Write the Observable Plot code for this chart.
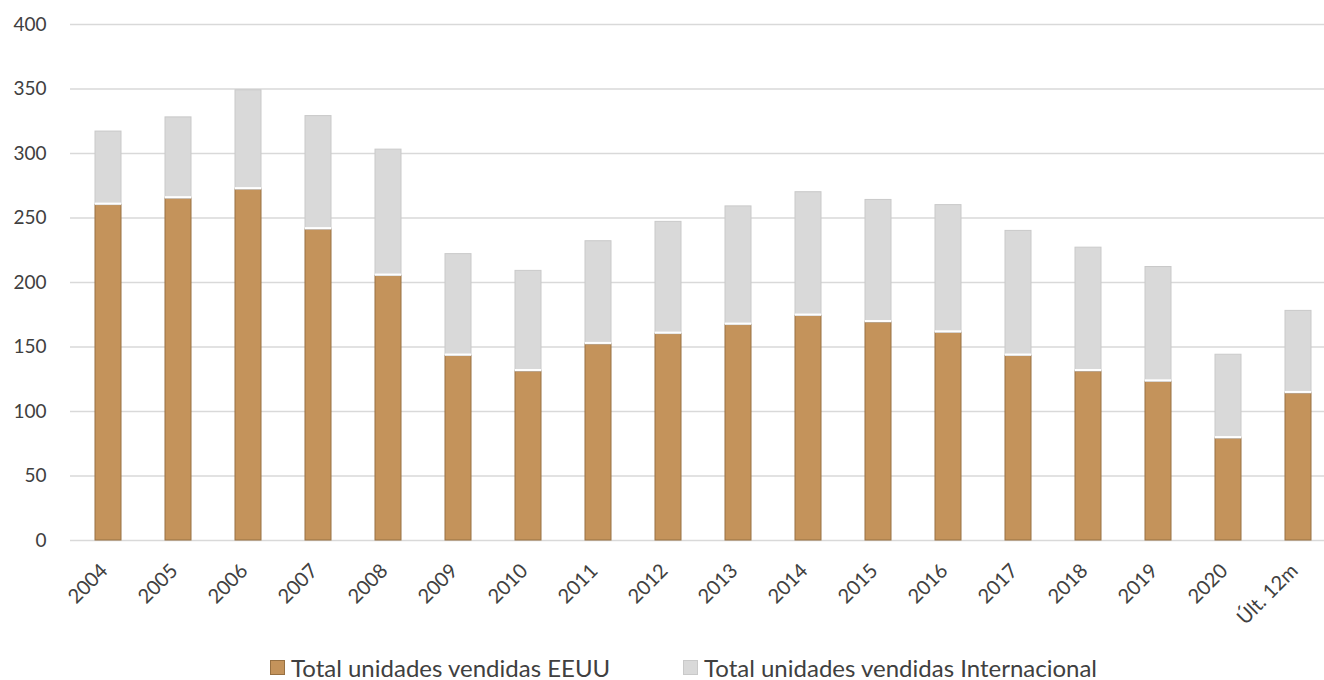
<!DOCTYPE html>
<html>
<head>
<meta charset="utf-8">
<script src="https://cdn.jsdelivr.net/npm/d3@7"></script>
<script src="https://cdn.jsdelivr.net/npm/@observablehq/plot@0.6"></script>
<style>
  body { margin: 0; background: #fff; font-family: Lato, "Open Sans", sans-serif; }
  #legend { position: relative; height: 50px; color: #404040; font-size: 24px; }
  .item { position: absolute; top: 23px; display: flex; align-items: center; white-space: nowrap; }
  .sw { width: 15px; height: 15px; margin-right: 6px; box-sizing: border-box; }
</style>
</head>
<body>
<div id="chart"></div>
<div id="legend"></div>
<script>
// Unidades vendidas por año (EEUU e internacional)
const years = ["2004","2005","2006","2007","2008","2009","2010","2011","2012","2013","2014","2015","2016","2017","2018","2019","2020","Últ. 12m"];
const eeuu = [260, 265, 272, 241, 205, 143, 131, 152, 160, 167, 174, 169, 161, 143, 131, 123, 79, 114];
const internacional = [57, 63, 77, 88, 98, 79, 78, 80, 87, 92, 96, 95, 99, 97, 96, 89, 65, 64];
const yTicks = [0, 50, 100, 150, 200, 250, 300, 350, 400];
const series = ["Total unidades vendidas EEUU", "Total unidades vendidas Internacional"];
const colors = ["#C4935B", "#D9D9D9"];
const strokes = ["#977042", "#C9C9C9"];

const rows = years.flatMap((year, i) => [
  {year, serie: series[0], value: eeuu[i]},
  {year, serie: series[1], value: internacional[i]}
]);
const usTops = years.map((year, i) => ({year, value: eeuu[i]}));

const chart = Plot.plot({
  width: 1324,
  height: 630,
  marginLeft: 70,
  marginRight: 0,
  marginTop: 24,
  marginBottom: 90,
  style: {fontFamily: "Lato, 'Open Sans', sans-serif", fontSize: "19px", color: "#404040", background: "#fff"},
  x: {domain: years, range: [70, 1336], paddingInner: 0.63, paddingOuter: 0.315},
  y: {domain: [0, 400]},
  color: {domain: series, range: colors},
  marks: [
    Plot.ruleY(yTicks, {stroke: "#D9D9D9", strokeWidth: 1.5}),
    Plot.barY(rows, Plot.stackY({
      x: "year", y: "value", fill: "serie", order: series,
      stroke: d => d.serie === series[0] ? strokes[0] : strokes[1], strokeWidth: 1
    })),
    // separación blanca entre los dos tramos de cada barra
    Plot.tickY(usTops, {x: "year", y: "value", stroke: "#fff", strokeWidth: 2, dy: -1.5}),
    Plot.axisY({ticks: yTicks, tickSize: 0, tickPadding: 24, fill: "#404040", fontSize: 19, label: null}),
    Plot.axisX({tickRotate: -45, tickSize: 0, tickPadding: 27, dx: -4, fill: "#404040", fontSize: 20, label: null})
  ]
});
document.getElementById("chart").append(chart);

const legend = document.getElementById("legend");
const lefts = [270, 683];
series.forEach((s, i) => {
  const item = document.createElement("div");
  item.className = "item";
  item.style.left = lefts[i] + "px";
  item.innerHTML = `<span class="sw" style="background:${colors[i]};border:1px solid ${strokes[i]}"></span><span>${s}</span>`;
  legend.append(item);
});
</script>
</body>
</html>
